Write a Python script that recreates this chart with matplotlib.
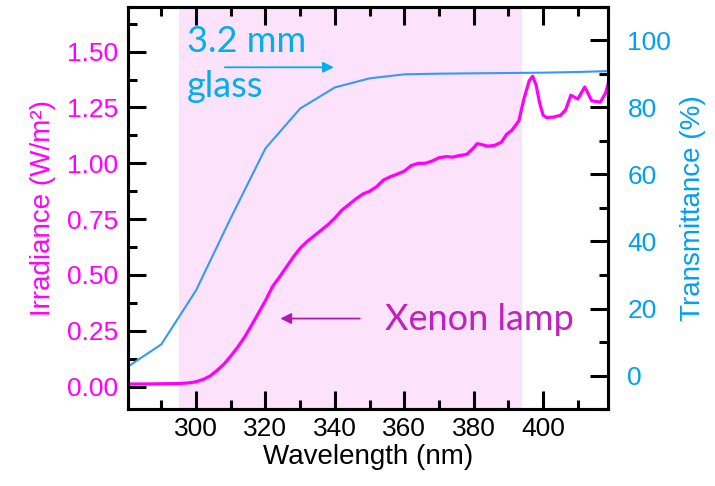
import numpy as np
import matplotlib.pyplot as plt
from matplotlib.ticker import MultipleLocator

# Xenon lamp irradiance spectrum
wl_lamp = [280.5, 285, 290, 295, 298, 300, 302, 304, 306, 308, 310, 312, 314, 316, 318,
           320, 322, 324, 326, 328, 330, 332, 334, 336, 338, 340, 342, 344, 346, 348,
           350, 352, 354, 356, 358, 360, 362, 364, 366, 368, 370, 372, 374, 376, 378,
           380, 381, 382, 384, 386, 388, 389.5, 391, 393, 394.5, 396, 397, 398, 399,
           400, 401, 403, 405, 406.5, 408, 410, 412, 414, 416.5, 418, 419]
irradiance = [0.012, 0.012, 0.013, 0.014, 0.017, 0.022, 0.032, 0.047, 0.072, 0.10, 0.137,
              0.177, 0.222, 0.275, 0.33, 0.385, 0.447, 0.49, 0.535, 0.58, 0.62, 0.65,
              0.675, 0.70, 0.725, 0.755, 0.79, 0.815, 0.84, 0.862, 0.875, 0.895, 0.925,
              0.94, 0.952, 0.965, 0.99, 1.0, 1.0, 1.01, 1.025, 1.03, 1.028, 1.035, 1.04,
              1.07, 1.088, 1.085, 1.077, 1.08, 1.095, 1.13, 1.148, 1.19, 1.29, 1.37, 1.39,
              1.35, 1.27, 1.215, 1.205, 1.207, 1.215, 1.24, 1.305, 1.288, 1.342, 1.28,
              1.274, 1.315, 1.37]

# 3.2 mm glass transmittance
wl_glass = [280, 290, 300, 310, 320, 330, 340, 350, 360, 370, 380, 390, 400, 410, 420]
transmittance = [2.4, 9.3, 25.4, 47.0, 67.8, 79.7, 86.0, 88.7, 89.9, 90.1, 90.2, 90.3,
                 90.4, 90.6, 90.9]

band = (295, 394)

MAGENTA = '#ff00ff'
BLUE = '#00a0f0'
LINE_BLUE = '#3399ff'
TEXT_BLUE = '#00aff0'
TEXT_PURPLE = '#c020c0'

plt.rcParams['font.family'] = ['Liberation Sans', 'DejaVu Sans']

fig = plt.figure(figsize=(7.15, 4.86), dpi=100)
ax = fig.add_axes([128 / 715, 1 - 409 / 486, 480 / 715, 402 / 486])
ax2 = ax.twinx()

ax.axvspan(*band, color='#fde2fc', zorder=0, lw=0)
ax.plot(wl_lamp, irradiance, color=MAGENTA, lw=2.3, zorder=3)
ax2.plot(wl_glass, transmittance, color=LINE_BLUE, lw=1.5)

ax.set_xlim(280.4, 418.7)
ax.set_ylim(-0.10, 1.70)
ax2.set_ylim(-10, 110)

ax.xaxis.set_major_locator(MultipleLocator(20))
ax.xaxis.set_minor_locator(MultipleLocator(10))
ax.yaxis.set_minor_locator(MultipleLocator(0.125))
ax.set_yticks(np.arange(0, 1.51, 0.25))
ax.set_yticklabels([f'{v:.2f}' for v in np.arange(0, 1.51, 0.25)])
ax2.yaxis.set_minor_locator(MultipleLocator(10))
ax2.set_yticks(np.arange(0, 101, 20))

for a in (ax, ax2):
    for s in a.spines.values():
        s.set_linewidth(2.2)
ax.tick_params(which='both', direction='in', top=True, right=False, width=2.2,
               labelsize=19)
ax.tick_params(which='major', length=13)
ax.tick_params(which='minor', length=6.5)
ax.tick_params(axis='y', labelcolor=MAGENTA, pad=7)
ax.tick_params(axis='x', pad=6)
ax2.tick_params(which='both', direction='in', width=2.2, labelsize=19,
                labelcolor=BLUE, pad=14)
ax2.tick_params(which='major', length=13)
ax2.tick_params(which='minor', length=6.5)

ax.set_xlabel('Wavelength (nm)', fontsize=20, labelpad=2)
ax.set_ylabel('Irradiance (W/m²)', fontsize=20, color=MAGENTA, labelpad=8)
ax2.set_ylabel('Transmittance (%)', fontsize=20, color=BLUE, labelpad=6)

# annotations
ax.text(297.3, 1.545, '3.2 mm', fontsize=26, color=TEXT_BLUE, family='Lato',
        va='center', ha='left')
ax.text(297.3, 1.345, 'glass', fontsize=26, color=TEXT_BLUE, family='Lato',
        va='center', ha='left')
ax.annotate('', xy=(340.5, 1.43), xytext=(307.5, 1.43),
            arrowprops=dict(arrowstyle='-|>', color=TEXT_BLUE, lw=1.3,
                            mutation_scale=16))
ax.text(354.5, 0.30, 'Xenon lamp', fontsize=26, color=TEXT_PURPLE, family='Lato',
        va='center', ha='left')
ax.annotate('', xy=(323.5, 0.305), xytext=(348, 0.305),
            arrowprops=dict(arrowstyle='-|>', color='#b01ab0', lw=1.3,
                            mutation_scale=16))

fig.savefig('out.png', dpi=100)
